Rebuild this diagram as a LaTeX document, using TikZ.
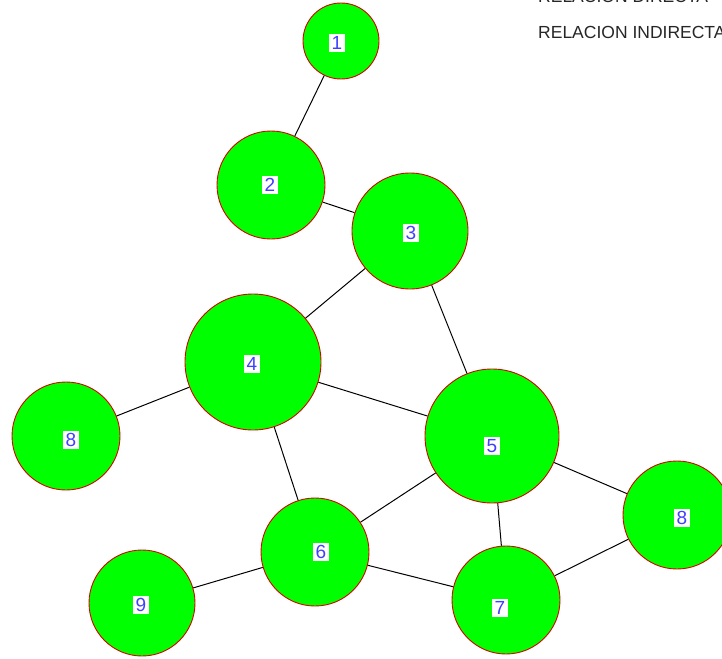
\documentclass[tikz,border=0pt]{standalone}
\usepackage{fontspec}
\setmainfont{Liberation Sans}
\begin{document}
\begin{tikzpicture}[x=1pt,y=-1pt,
  vtx/.style={circle,draw=red!85!black,line width=0.9pt,fill=green!100,inner sep=0pt,minimum size=#1},
  lbl/.style={fill=white,inner xsep=3pt,inner ysep=2pt,text=blue!75!white,font=\fontsize{19}{19}\selectfont},
  edge/.style={draw=black,line width=1pt},
  legend/.style={anchor=west,font=\fontsize{17.5}{18}\selectfont,text=black!85,inner sep=0pt}]
\useasboundingbox (0,0) rectangle (722,658);
\clip (0,0) rectangle (722,658);
% nodes
\node[vtx=76pt] (n1) at (341,41) {};
\node[vtx=108pt] (n2) at (271,185) {};
\node[vtx=116pt] (n3) at (410,231) {};
\node[vtx=136pt] (n4) at (253,362) {};
\node[vtx=108pt] (n8a) at (66,436) {};
\node[vtx=134pt] (n5) at (492,436) {};
\node[vtx=108pt] (n8b) at (677,515) {};
\node[vtx=108pt] (n6) at (315,552) {};
\node[vtx=106pt] (n9) at (142,603) {};
\node[vtx=108pt] (n7) at (506,600) {};
% edges
\draw[edge] (n1) -- (n2);
\draw[edge] (n2) -- (n3);
\draw[edge] (n3) -- (n4);
\draw[edge] (n3) -- (n5);
\draw[edge] (n4) -- (n8a);
\draw[edge] (n4) -- (n5);
\draw[edge] (n4) -- (n6);
\draw[edge] (n5) -- (n6);
\draw[edge] (n5) -- (n7);
\draw[edge] (n5) -- (n8b);
\draw[edge] (n6) -- (n9);
\draw[edge] (n6) -- (n7);
\draw[edge] (n7) -- (n8b);
% labels
\node[lbl] (l1) at (337,43) {1};
\node[lbl] (l2) at (270,185) {2};
\node[lbl] (l3) at (411,233) {3};
\node[lbl] (l4) at (252,364) {4};
\node[lbl] (l8a) at (71,440) {8};
\node[lbl] (l5) at (492,446) {5};
\node[lbl] (l8b) at (682,518) {8};
\node[lbl] (l6) at (321,552) {6};
\node[lbl] (l9) at (141,605) {9};
\node[lbl] (l7) at (500,608) {7};
% legend
\node[legend] (t1) at (538,-4) {RELACION DIRECTA};
\node[legend] (t2) at (538,32) {RELACION INDIRECTA};
\end{tikzpicture}
\end{document}
